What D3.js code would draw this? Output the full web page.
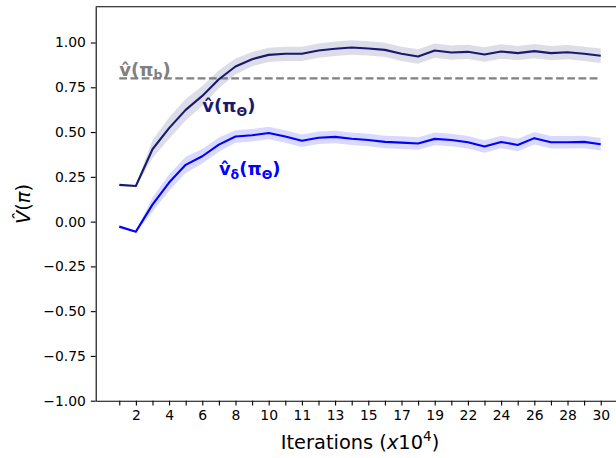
<!DOCTYPE html>
<html>
<head>
<meta charset="utf-8">
<script src="https://cdn.jsdelivr.net/npm/d3@7"></script>
<style>
  body { margin: 0; background: #fff; }
  svg { display: block; font-family: "DejaVu Sans", sans-serif; }
</style>
</head>
<body>
<svg id="chart" width="616" height="458"></svg>
<script>
// tick labels under the x axis (every other one is blank)
let iterLabels = ["", "2", "", "4", "", "6", "", "8", "", "10", "", "11", "", "13", "", "15",
                  "", "17", "", "19", "", "22", "", "24", "", "26", "", "28", "", "30"];

// v(pi_theta)
let vTheta = [0.205, 0.199, 0.404, 0.522, 0.624, 0.702, 0.795, 0.866, 0.907, 0.931,
              0.937, 0.937, 0.955, 0.965, 0.972, 0.967, 0.959, 0.937, 0.922, 0.955,
              0.944, 0.948, 0.933, 0.950, 0.941, 0.952, 0.941, 0.946, 0.937, 0.926];
let vThetaStd = [0.005, 0.005, 0.05, 0.06, 0.06, 0.055, 0.05, 0.045, 0.04, 0.04,
                 0.04, 0.04, 0.04, 0.04, 0.04, 0.04, 0.04, 0.04, 0.04, 0.04,
                 0.04, 0.04, 0.04, 0.04, 0.04, 0.04, 0.04, 0.04, 0.04, 0.04];

// v_delta(pi_theta)
let vDelta = [-0.028, -0.056, 0.095, 0.218, 0.317, 0.365, 0.430, 0.475, 0.482, 0.495,
              0.475, 0.452, 0.468, 0.473, 0.463, 0.456, 0.445, 0.441, 0.436, 0.462,
              0.456, 0.443, 0.419, 0.445, 0.428, 0.466, 0.443, 0.443, 0.445, 0.432];
let vDeltaStd = [0.005, 0.005, 0.04, 0.045, 0.045, 0.04, 0.04, 0.035, 0.035, 0.035,
                 0.035, 0.035, 0.035, 0.035, 0.035, 0.035, 0.035, 0.035, 0.035, 0.035,
                 0.035, 0.035, 0.035, 0.035, 0.035, 0.035, 0.035, 0.035, 0.035, 0.035];

// behaviour policy value
let vB = 0.80;

let yTicks = [-1.00, -0.75, -0.50, -0.25, 0.00, 0.25, 0.50, 0.75, 1.00];

let svg = d3.select("#chart");

let x = d3.scaleLinear().domain([-1.42, 30.42]).range([95.7, 624.3]);
let y = d3.scaleLinear().domain([-1.0, 1.2]).range([400.7, 6.7]);

let idx = d3.range(vTheta.length);

function band(vals, std, fill) {
    let area = d3.area()
        .x(d => x(d))
        .y0(d => y(vals[d] - std[d]))
        .y1(d => y(vals[d] + std[d]));
    svg.append("path")
       .attr("d", area(idx))
       .attr("fill", fill);
}

function line(vals, color) {
    let l = d3.line().x(d => x(d)).y(d => y(vals[d]));
    svg.append("path")
       .attr("d", l(idx))
       .attr("fill", "none")
       .attr("stroke", color)
       .attr("stroke-width", 2.1)
       .attr("stroke-linejoin", "round");
}

band(vTheta, vThetaStd, "rgba(25,25,112,0.15)");
band(vDelta, vDeltaStd, "rgba(0,0,255,0.15)");

// dashed baseline
svg.append("line")
   .attr("x1", x(0)).attr("x2", x(idx.length - 1))
   .attr("y1", y(vB)).attr("y2", y(vB))
   .attr("stroke", "#808080")
   .attr("stroke-width", 2.1)
   .attr("stroke-dasharray", "7.8,3.4");

line(vTheta, "#191970");
line(vDelta, "#0000ff");

// axes
let xAxis = d3.axisBottom(x)
    .tickValues(idx)
    .tickFormat(i => iterLabels[i])
    .tickSize(4.9)
    .tickPadding(4.9)
    .tickSizeOuter(0);
let gx = svg.append("g").attr("transform", "translate(0,400.7)").call(xAxis);

let yAxis = d3.axisLeft(y)
    .tickValues(yTicks)
    .tickFormat(d3.format(".2f"))
    .tickSize(4.9)
    .tickPadding(4.9)
    .tickSizeOuter(0);
let gy = svg.append("g").attr("transform", "translate(95.7,0)").call(yAxis);

[gx, gy].forEach(g => {
    g.selectAll("text").attr("font-size", "13.9px").attr("font-family", "DejaVu Sans").attr("fill", "#000");
    g.selectAll("line").attr("stroke", "#000").attr("stroke-width", 1.1);
    g.select(".domain").attr("stroke", "#000").attr("stroke-width", 1.1);
});

// top spine
svg.append("line")
   .attr("x1", 95.7).attr("x2", 616)
   .attr("y1", 6.7).attr("y2", 6.7)
   .attr("stroke", "#000").attr("stroke-width", 1.1);

// series annotations
function annotate(px, py, color, parts) {
    let t = svg.append("text")
        .attr("x", px).attr("y", py)
        .attr("fill", color)
        .attr("font-weight", "bold")
        .attr("font-size", "18px");
    parts.forEach(p => {
        let s = t.append("tspan").text(p.t);
        if (p.sub) s.attr("font-size", "12.5px").attr("dy", p.dy);
        else if (p.dy) s.attr("dy", p.dy);
    });
}
annotate(x(0), y(0.815), "#808080", [
    {t: "v\u0302(\u03c0"}, {t: "b", sub: true, dy: 3.5}, {t: ")", dy: -3.5}
]);
annotate(x(5), y(0.61), "#191970", [
    {t: "v\u0302(\u03c0"}, {t: "\u0398", sub: true, dy: 3.5}, {t: ")", dy: -3.5}
]);
annotate(x(6), y(0.258), "#0000ff", [
    {t: "v\u0302"}, {t: "\u03b4", sub: true, dy: 3.5}, {t: "(\u03c0", dy: -3.5},
    {t: "\u0398", sub: true, dy: 3.5}, {t: ")", dy: -3.5}
]);

// axis titles
let xt = svg.append("text")
    .attr("x", 360).attr("y", 449.3)
    .attr("text-anchor", "middle")
    .attr("font-size", "19.4px")
    .attr("fill", "#000");
xt.append("tspan").text("Iterations (");
xt.append("tspan").text("x").attr("font-style", "italic");
xt.append("tspan").text("10");
xt.append("tspan").text("4").attr("font-size", "13.5px").attr("dy", -8);
xt.append("tspan").text(")").attr("dy", 8);

let yt = svg.append("text")
    .attr("transform", "translate(30,204) rotate(-90)")
    .attr("text-anchor", "middle")
    .attr("font-size", "19.4px")
    .attr("fill", "#000");
yt.append("tspan").text("V\u0302").attr("font-style", "italic");
yt.append("tspan").text("(");
yt.append("tspan").text("\u03c0").attr("font-style", "italic");
yt.append("tspan").text(")");
</script>
</body>
</html>
